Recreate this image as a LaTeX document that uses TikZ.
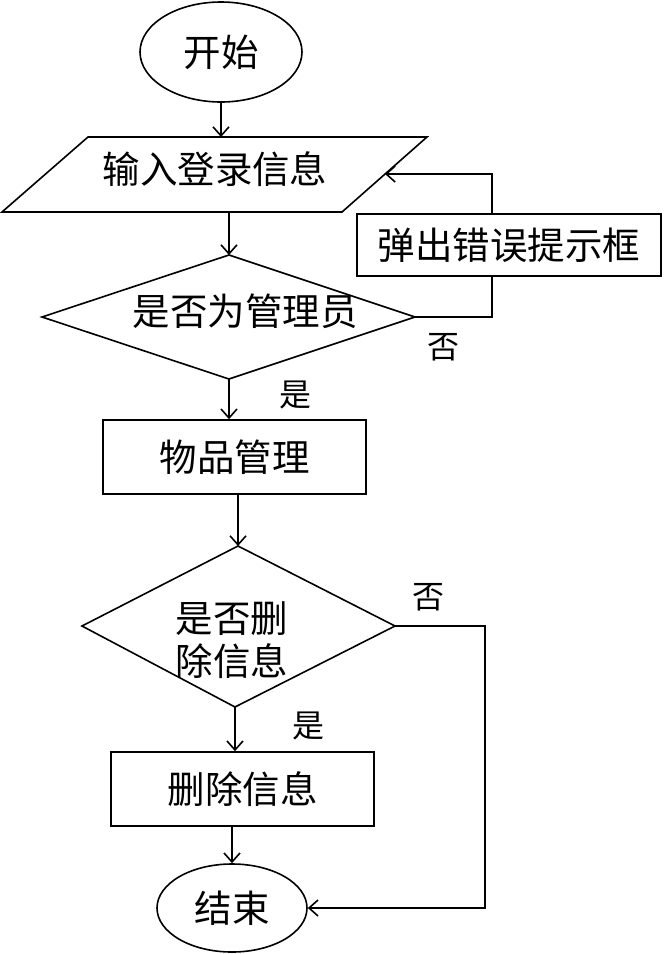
\documentclass[tikz,border=0pt]{standalone}
\usepackage{fontspec}
\newfontfamily\cjk{Noto Sans CJK SC}
\usetikzlibrary{shapes.geometric,arrows.meta}
\begin{document}
\begin{tikzpicture}[x=1pt,y=-1pt,
  line width=1.6pt,
  txt/.style={font=\cjk\fontsize{37.5}{43}\selectfont, inner sep=0pt},
  lbl/.style={font=\cjk\fontsize{32}{36}\selectfont, inner sep=0pt},
  box/.style={draw, rectangle, inner sep=0pt, txt},
  oval/.style={draw, ellipse, inner sep=0pt, txt},
  arr/.style={-{Straight Barb[length=9pt,width=16pt]}}
]
\useasboundingbox (0,0) rectangle (665,954);

% start
\node[oval, minimum width=162, minimum height=100] (start) at (221,52) {开始};

% input parallelogram
\coordinate (p1) at (88,137);
\coordinate (p2) at (427,137);
\coordinate (p3) at (342,212);
\coordinate (p4) at (2,212);
\coordinate (pin) at (385,174);
\draw (p1) -- (p2) -- (p3) -- (p4) -- cycle;
\node[txt] (input) at (215,169) {输入登录信息};

% decision 1
\coordinate (d1t) at (229,255);
\coordinate (d1r) at (415,317);
\coordinate (d1b) at (229,379);
\coordinate (d1l) at (42,317);
\draw (d1t) -- (d1r) -- (d1b) -- (d1l) -- cycle;
\node[txt] (q1) at (245,311) {是否为管理员};

% error box
\node[box, minimum width=304, minimum height=62] (err) at (509,245) {弹出错误提示框};

% manage box
\node[box, minimum width=263, minimum height=74] (wp) at (234.5,457) {物品管理};

% decision 2
\coordinate (d2t) at (238,546);
\coordinate (d2r) at (395,626);
\coordinate (d2b) at (235,707);
\coordinate (d2l) at (82,626);
\draw (d2t) -- (d2r) -- (d2b) -- (d2l) -- cycle;
\node[txt, align=center] (q2) at (232,640) {是否删\\除信息};

% delete box
\node[box, minimum width=263, minimum height=74] (del) at (242.5,789) {删除信息};

% end
\node[oval, minimum width=150, minimum height=88] (endn) at (232,908) {结束};

% labels
\node[lbl] (no1) at (443,347) {否};
\node[lbl] (yes1) at (295,395) {是};
\node[lbl] (no2) at (428,597) {否};
\node[lbl] (yes2) at (308,726) {是};

% connectors
\coordinate (ex) at (492,0);
\coordinate (ex2) at (485,0);
\draw[arr] (start.south) -- (start.south |- p1);
\draw[arr] (d1t |- p4) -- (d1t);
\draw (d1r) -| (err.south -| ex);
\draw[arr] (err.north -| ex) |- (pin);
\draw[arr] (d1b) -- (d1b |- wp.north);
\draw[arr] (wp.south -| d2t) -- (d2t);
\draw[arr] (d2b) -- (d2b |- del.north);
\draw[arr] (del.south -| endn) -- (endn.north);
\draw[arr] (d2r) -- (d2r -| ex2) |- (endn.east);
\end{tikzpicture}
\end{document}
